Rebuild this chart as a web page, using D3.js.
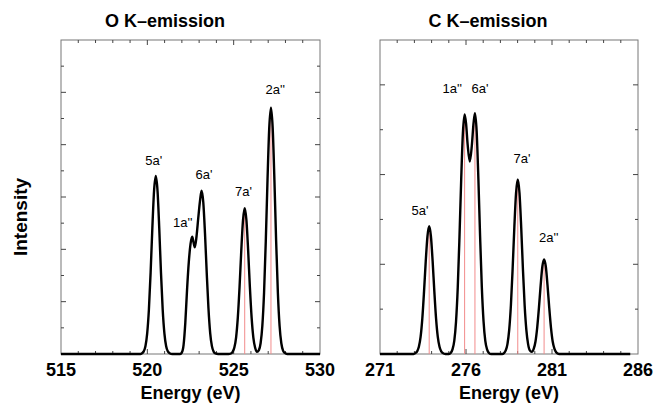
<!DOCTYPE html>
<html>
<head>
<meta charset="utf-8">
<script src="https://cdn.jsdelivr.net/npm/d3@7"></script>
<style>
  body { margin: 0; background: #fff; }
  text { font-family: "Liberation Sans", Arial, Helvetica, sans-serif; fill: #000; }
</style>
</head>
<body>
<div id="chart"></div>
<script>
// O K-emission spectrum (energy in eV, intensity in tick units)
var oEnergy = [515, 519.6, 519.69, 519.79, 519.89, 519.99, 520.09, 520.19, 520.29, 520.39, 520.49,
  520.59, 520.69, 520.79, 520.89, 520.99, 521.09, 521.19, 521.29, 521.45,
  521.9, 522.0, 522.1, 522.2, 522.3, 522.4, 522.5, 522.6, 522.67, 522.75, 522.85, 522.95, 523.05,
  523.14, 523.24, 523.34, 523.44, 523.54, 523.64, 523.74, 523.84, 523.94, 524.1,
  524.7, 524.84, 524.94, 525.04, 525.14, 525.24, 525.34, 525.44, 525.54, 525.64, 525.74, 525.84,
  525.94, 526.04, 526.14, 526.24, 526.35, 526.46, 526.56, 526.66, 526.76, 526.86, 526.96, 527.06,
  527.16, 527.26, 527.36, 527.46, 527.56, 527.66, 527.76, 527.86, 527.96, 528.1, 530]
var oIntensity = [0, 0, 0.03, 0.10, 0.30, 0.78, 1.69, 3.11, 4.81, 6.24, 6.80,
  6.24, 4.81, 3.11, 1.69, 0.78, 0.30, 0.10, 0.03, 0,
  0, 0.06, 0.35, 1.2, 2.45, 3.5, 4.2, 4.48, 4.28, 4.08, 4.5, 5.2, 5.85,
  6.24, 5.8, 4.6, 3.1, 1.75, 0.8, 0.3, 0.09, 0.02, 0,
  0, 0.02, 0.08, 0.25, 0.63, 1.39, 2.55, 3.94, 5.11, 5.57, 5.11, 3.94,
  2.55, 1.39, 0.63, 0.25, 0.08, 0.15, 0.41, 1.07, 2.34, 4.31, 6.65, 8.63,
  9.41, 8.63, 6.65, 4.31, 2.34, 1.07, 0.41, 0.13, 0.04, 0, 0]
var oStickEnergy = [525.64, 527.16]
var oStickIntensity = [5.57, 9.41]
var oLabels = ["5a'", "1a''", "6a'", "7a'", "2a''"]
var oLabelEnergy = [520.37, 522.05, 523.28, 525.57, 527.41]
var oLabelIntensity = [7.22, 4.86, 6.69, 6.04, 9.92]
var oTicks = [515, 520, 525, 530]

// C K-emission spectrum
var cEnergy = [271, 272.95, 273.06, 273.16, 273.26, 273.36, 273.46, 273.56, 273.66, 273.76, 273.86,
  273.96, 274.06, 274.16, 274.26, 274.36, 274.46, 274.56, 274.66, 274.8,
  275.0, 275.12, 275.22, 275.32, 275.42, 275.52, 275.62, 275.72, 275.82, 275.92, 276.0, 276.1,
  276.22, 276.34, 276.44, 276.52, 276.62, 276.72, 276.82, 276.92, 277.02, 277.12, 277.22, 277.32, 277.45,
  278.1, 278.21, 278.31, 278.41, 278.51, 278.61, 278.71, 278.81, 278.91, 279.01, 279.11, 279.21,
  279.31, 279.41, 279.51, 279.61, 279.71, 279.82, 279.94, 280.04, 280.14, 280.24, 280.34, 280.44,
  280.54, 280.64, 280.74, 280.84, 280.94, 281.04, 281.14, 281.24, 281.34, 281.5, 285.55]
var cIntensity = [0, 0, 0.02, 0.06, 0.16, 0.38, 0.79, 1.39, 2.07, 2.63, 2.85,
  2.63, 2.07, 1.39, 0.79, 0.38, 0.16, 0.06, 0.02, 0,
  0, 0.03, 0.11, 0.30, 0.72, 1.48, 2.60, 3.88, 4.93, 5.34, 5.15, 4.65,
  4.29, 4.65, 5.15, 5.37, 4.96, 3.90, 2.62, 1.49, 0.73, 0.30, 0.11, 0.03, 0,
  0, 0.02, 0.08, 0.22, 0.53, 1.08, 1.89, 2.82, 3.59, 3.89, 3.59, 2.82,
  1.89, 1.08, 0.53, 0.22, 0.08, 0.05, 0.12, 0.28, 0.59, 1.03, 1.53, 1.95,
  2.11, 1.95, 1.53, 1.03, 0.59, 0.28, 0.12, 0.04, 0.01, 0, 0]
var cStickEnergy = [273.86, 275.92, 276.52, 279.01, 280.54]
var cStickIntensity = [2.85, 5.34, 5.37, 3.89, 2.11]
var cLabels = ["5a'", "1a''", "6a'", "7a'", "2a''"]
var cLabelEnergy = [273.33, 275.2, 276.81, 279.26, 280.81]
var cLabelIntensity = [3.10, 5.82, 5.82, 4.26, 2.50]
var cTicks = [271, 276, 281, 286]

var width = 654, height = 403

var svg = d3.select("#chart").append("svg")
  .attr("width", width)
  .attr("height", height)

function drawPanel(panel) {
  var x = d3.scaleLinear().domain(panel.xDomain).range([panel.left, panel.right])
  var y = d3.scaleLinear().domain([0, panel.yMax]).range([panel.bottom, panel.top])
  var g = svg.append("g").attr("class", "panel")

  // frame
  g.append("rect")
    .attr("x", panel.left)
    .attr("y", panel.top)
    .attr("width", panel.right - panel.left)
    .attr("height", panel.bottom - panel.top)
    .attr("fill", "none")
    .attr("stroke", "#777")
    .attr("stroke-width", 1)

  // x ticks every eV, longer at labelled ones, on top and bottom (inward)
  var xt = d3.range(panel.xDomain[0] + 1, panel.xDomain[1])
  xt.forEach(function (v) {
    var len = (panel.ticks.indexOf(v) >= 0) ? 5 : 3
    g.append("line").attr("class", "tick")
      .attr("x1", x(v)).attr("x2", x(v))
      .attr("y1", panel.top).attr("y2", panel.top + len)
    g.append("line").attr("class", "tick")
      .attr("x1", x(v)).attr("x2", x(v))
      .attr("y1", panel.bottom).attr("y2", panel.bottom - len)
  })

  // y ticks every unit, longer at even ones, on both sides (inward)
  var yt = d3.range(1, panel.yMax)
  yt.forEach(function (v) {
    var len = (v % 2 == 0) ? 5 : 3
    g.append("line").attr("class", "tick")
      .attr("x1", panel.left).attr("x2", panel.left + len)
      .attr("y1", y(v)).attr("y2", y(v))
    g.append("line").attr("class", "tick")
      .attr("x1", panel.right).attr("x2", panel.right - len)
      .attr("y1", y(v)).attr("y2", y(v))
  })
  g.selectAll("line.tick")
    .attr("stroke", "#444")
    .attr("stroke-width", 1)

  // stick spectrum
  g.selectAll("line.stick")
    .data(panel.stickE)
    .enter().append("line")
      .attr("class", "stick")
      .attr("x1", function (d) { return x(d) })
      .attr("x2", function (d) { return x(d) })
      .attr("y1", y(0))
      .attr("y2", function (d, i) { return y(panel.stickI[i]) })
      .attr("stroke", "#f28c8c")
      .attr("stroke-width", 1)

  // broadened spectrum
  var line = d3.line()
    .x(function (d) { return x(d[0]) })
    .y(function (d) { return y(d[1]) })
    .curve(d3.curveMonotoneX)

  g.append("path")
    .datum(d3.zip(panel.energy, panel.intensity))
    .attr("d", line)
    .attr("fill", "none")
    .attr("stroke", "#000")
    .attr("stroke-width", 2.4)
    .attr("stroke-linejoin", "round")

  // peak labels
  g.selectAll("text.peak")
    .data(panel.labels)
    .enter().append("text")
      .attr("class", "peak")
      .attr("x", function (d, i) { return x(panel.labelE[i]) })
      .attr("y", function (d, i) { return y(panel.labelI[i]) })
      .attr("text-anchor", "middle")
      .style("font-size", "13px")
      .text(function (d) { return d })

  // tick labels
  g.selectAll("text.xlabel")
    .data(panel.ticks)
    .enter().append("text")
      .attr("class", "xlabel")
      .attr("x", function (d) { return x(d) })
      .attr("y", 376)
      .attr("text-anchor", "middle")
      .style("font-size", "18px")
      .style("font-weight", "bold")
      .text(function (d) { return d })

  g.append("text")
    .attr("x", (panel.left + panel.right) / 2)
    .attr("y", 399)
    .attr("text-anchor", "middle")
    .style("font-size", "18px")
    .style("font-weight", "bold")
    .text("Energy (eV)")

  g.append("text")
    .attr("x", panel.titleX)
    .attr("y", 27)
    .attr("text-anchor", "middle")
    .style("font-size", "18px")
    .style("font-weight", "bold")
    .text(panel.title)
}

drawPanel({
  left: 61, right: 320, top: 40, bottom: 354,
  xDomain: [515, 530], yMax: 12,
  energy: oEnergy, intensity: oIntensity,
  stickE: oStickEnergy, stickI: oStickIntensity,
  labels: oLabels, labelE: oLabelEnergy, labelI: oLabelIntensity,
  ticks: oTicks, title: "O K\u2013emission", titleX: 165
})

drawPanel({
  left: 380, right: 638, top: 40, bottom: 354,
  xDomain: [271, 286], yMax: 7,
  energy: cEnergy, intensity: cIntensity,
  stickE: cStickEnergy, stickI: cStickIntensity,
  labels: cLabels, labelE: cLabelEnergy, labelI: cLabelIntensity,
  ticks: cTicks, title: "C K\u2013emission", titleX: 488
})

svg.append("text")
  .attr("transform", "translate(27,217) rotate(-90)")
  .attr("text-anchor", "middle")
  .style("font-size", "19px")
  .style("font-weight", "bold")
  .text("Intensity")
</script>
</body>
</html>
